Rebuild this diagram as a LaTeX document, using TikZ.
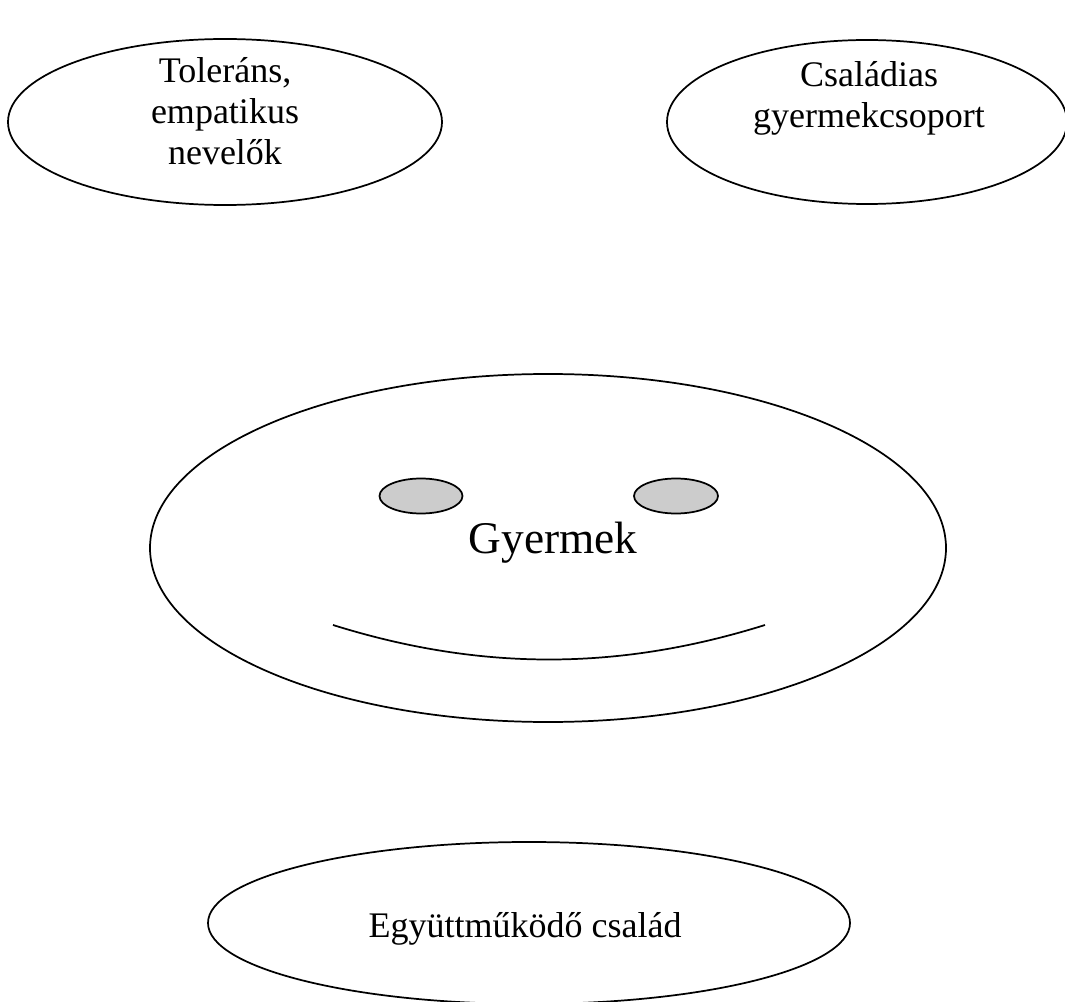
\documentclass[tikz,border=0pt]{standalone}
\usepackage{fontspec}
\setmainfont{Liberation Serif}
\usetikzlibrary{positioning}

\begin{document}
\begin{tikzpicture}[x=0.75pt,y=-0.75pt]
	\tikzset{
		bubble/.style={draw=black, line width=1.3pt},
		eye/.style={draw=black, fill=gray!40, line width=1.3pt},
		lbl/.style={font=\fontsize{27}{30.75}\selectfont, align=center, inner sep=0pt},
		biglbl/.style={font=\fontsize{34}{40}\selectfont, inner sep=0pt}
	}
	\clip (0,0) rectangle (1065,1002);
	
	% ======= felső buborékok =======
	\draw[bubble] (225,122) ellipse [x radius=217, y radius=83];
	\node[lbl] (tol) at (225,111) {Toleráns,\\empatikus\\nevelők};
	
	\draw[bubble] (867,122) ellipse [x radius=200, y radius=82];
	\node[lbl] (csal) at (869,98) {Családias\\gyermekcsoport};
	
	% ======= arc =======
	\draw[bubble] (548,548) ellipse [x radius=398, y radius=174];
	\draw[eye] (421,496) ellipse [x radius=41.5, y radius=17.5];
	\draw[eye] (676,496) ellipse [x radius=42, y radius=17.5];
	\node[biglbl, anchor=base] (gyer) at (553,553) {Gyermek};
	\draw[bubble] (333,625) .. controls (480,671) and (618,671) .. (765,625);
	
	% ======= alsó buborék =======
	\draw[bubble] (529,923) ellipse [x radius=321, y radius=81];
	\node[lbl, anchor=base] (egy) at (525,937) {Együttműködő család};
	
\end{tikzpicture}
\end{document}
